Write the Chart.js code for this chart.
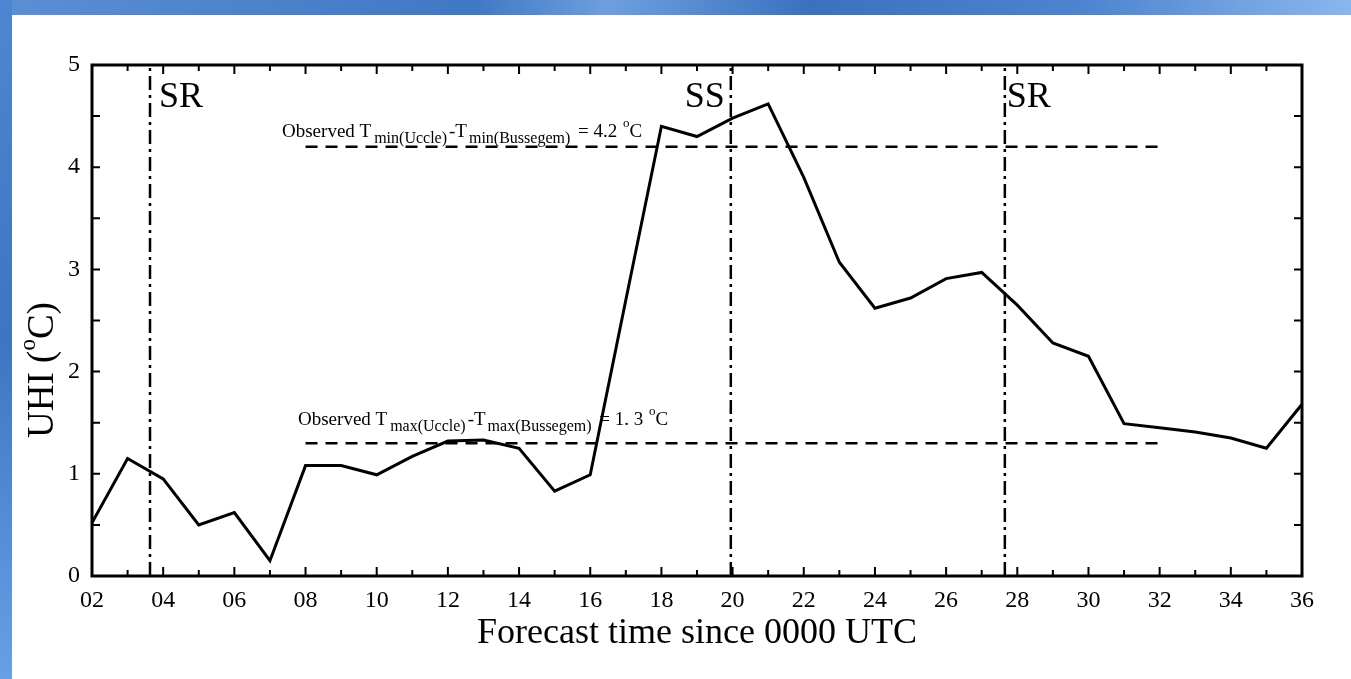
<!DOCTYPE html>
<html lang="en">
<head>
    <meta charset="UTF-8">
    <title>UHI forecast</title>
    <script src="https://cdn.jsdelivr.net/npm/chart.js"></script>
    <style>
        html, body { margin: 0; padding: 0; background: #fff; overflow: hidden; }
        .band-top { position: absolute; left: 0; top: 0; width: 1351px; height: 15px;
            background: linear-gradient(90deg, #5b8fd6 0%, #3f78c4 35%, #6d9fe0 45%, #3a72c0 60%, #4c84d0 80%, #8ab6ee 100%); }
        .band-left { position: absolute; left: 0; top: 0; width: 12px; height: 679px;
            background: linear-gradient(180deg, #4f86d2 0%, #3d75c2 50%, #67a0e6 100%); }
        .wrap { position: absolute; left: 0; top: 0; width: 1351px; height: 679px; }
    </style>
</head>
<body>
    <div class="band-top"></div>
    <div class="band-left"></div>
    <div class="wrap"><canvas id="uhiChart"></canvas></div>

    <script>
        // Forecast hours and UHI values (°C)
        const hours = [2, 3, 4, 5, 6, 7, 8, 9, 10, 11, 12, 13, 14, 15, 16, 17, 18, 19,
                       20, 21, 22, 23, 24, 25, 26, 27, 28, 29, 30, 31, 32, 33, 34, 35, 36];
        const uhi = [0.52, 1.15, 0.95, 0.50, 0.62, 0.15, 1.08, 1.08, 0.99, 1.17, 1.32, 1.33,
                     1.25, 0.83, 0.99, 2.70, 4.40, 4.30, 4.48, 4.62, 3.90, 3.07, 2.62, 2.72,
                     2.91, 2.97, 2.65, 2.28, 2.15, 1.49, 1.45, 1.41, 1.35, 1.25, 1.68];

        // Sunrise / sunset markers
        const sunTimes = [3.63, 19.95, 27.65];
        const sunLabels = ['SR', 'SS', 'SR'];

        // Observed differences (horizontal reference lines)
        const observed = [4.2, 1.3];
        const observedText = ['4.2', '1. 3'];
        const observedFrom = [8, 8];
        const observedTo = [32, 32];
        const observedKind = ['min', 'max'];

        const xRange = [2, 36];
        const yRange = [0, 5];

        const serif = "'Liberation Serif', 'Times New Roman', serif";
        const ink = '#000';

        const datasets = [{
            data: hours.map((h, i) => ({ x: h, y: uhi[i] })),
            borderColor: ink,
            borderWidth: 3,
            pointRadius: 0,
            tension: 0
        }];
        observed.forEach((v, i) => {
            datasets.push({
                data: [{ x: observedFrom[i], y: v }, { x: observedTo[i], y: v }],
                borderColor: ink,
                borderWidth: 2.5,
                borderDash: [12, 8],
                pointRadius: 0
            });
        });
        sunTimes.forEach(t => {
            datasets.push({
                data: [{ x: t, y: yRange[0] }, { x: t, y: yRange[1] }],
                borderColor: ink,
                borderWidth: 2.5,
                borderDash: [14, 5, 3, 5],
                pointRadius: 0
            });
        });

        // Frame, inward ticks and text annotations
        const decor = {
            id: 'decor',
            afterDatasetsDraw(chart) {
                const { ctx, chartArea: a, scales: { x, y } } = chart;
                ctx.save();
                ctx.strokeStyle = ink;
                ctx.lineWidth = 2;
                ctx.beginPath();
                for (let h = xRange[0]; h <= xRange[1]; h++) {
                    const px = x.getPixelForValue(h);
                    const len = h % 2 === 0 ? 9 : 6;
                    ctx.moveTo(px, a.bottom); ctx.lineTo(px, a.bottom - len);
                    ctx.moveTo(px, a.top); ctx.lineTo(px, a.top + len);
                }
                for (let v = yRange[0]; v <= yRange[1]; v += 0.5) {
                    const py = y.getPixelForValue(v);
                    ctx.moveTo(a.left, py); ctx.lineTo(a.left + 8, py);
                    ctx.moveTo(a.right, py); ctx.lineTo(a.right - 8, py);
                }
                ctx.stroke();
                ctx.lineWidth = 3;
                ctx.strokeRect(a.left, a.top, a.right - a.left, a.bottom - a.top);

                ctx.fillStyle = ink;
                ctx.textBaseline = 'alphabetic';

                // SR / SS labels
                ctx.font = '36px ' + serif;
                const shift = [9, -6, 2];
                sunTimes.forEach((t, i) => {
                    const px = x.getPixelForValue(t);
                    ctx.textAlign = shift[i] < 0 ? 'right' : 'left';
                    ctx.fillText(sunLabels[i], px + shift[i], a.top + 42);
                });

                // Observed Tmin / Tmax labels
                ctx.textAlign = 'left';
                const textStart = [282, 298];
                const textRise = [10, 18];
                observed.forEach((v, i) => {
                    let cx = textStart[i];
                    const base = y.getPixelForValue(v) - textRise[i];
                    const k = observedKind[i];
                    const parts = [
                        ['Observed T', 19, 0, 3],
                        [k + '(Uccle)', 16, 6, 2],
                        ['-T', 19, 0, 2],
                        [k + '(Bussegem)', 16, 6, 3],
                        [' = ' + observedText[i] + ' ', 19, 0, 1],
                        ['o', 13, -10, 0],
                        ['C', 19, 0, 0]
                    ];
                    parts.forEach(([s, size, dy, gap]) => {
                        ctx.font = size + 'px ' + serif;
                        ctx.fillText(s, cx, base + dy);
                        cx += ctx.measureText(s).width + gap;
                    });
                });

                // y-axis title
                ctx.save();
                ctx.translate(43, 370);
                ctx.rotate(-Math.PI / 2);
                ctx.textBaseline = 'middle';
                ctx.textAlign = 'left';
                const big = '37px ' + serif, small = '23px ' + serif;
                ctx.font = big;
                const w1 = ctx.measureText('UHI (').width;
                const w2 = ctx.measureText('C)').width;
                ctx.font = small;
                const wo = ctx.measureText('o').width;
                let sx = -(w1 + wo + w2) / 2;
                ctx.font = big;
                ctx.fillText('UHI (', sx, 0); sx += w1;
                ctx.font = small;
                ctx.fillText('o', sx, -14); sx += wo;
                ctx.font = big;
                ctx.fillText('C)', sx, 0);
                ctx.restore();

                ctx.restore();
            }
        };

        new Chart(document.getElementById('uhiChart'), {
            type: 'line',
            data: { datasets },
            options: {
                responsive: true,
                maintainAspectRatio: false,
                animation: false,
                layout: { padding: { top: 65, right: 49, bottom: 0, left: 0 } },
                plugins: { legend: { display: false }, tooltip: { enabled: false } },
                scales: {
                    x: {
                        type: 'linear',
                        min: xRange[0],
                        max: xRange[1],
                        grid: { display: false, drawTicks: false },
                        border: { display: false },
                        ticks: {
                            stepSize: 2,
                            autoSkip: false,
                            maxRotation: 0,
                            padding: 10,
                            color: ink,
                            font: { family: serif, size: 24 },
                            callback: v => String(v).padStart(2, '0')
                        },
                        title: {
                            display: true,
                            text: 'Forecast time since 0000 UTC',
                            color: ink,
                            font: { family: serif, size: 36 },
                            padding: { top: 0, bottom: 24 }
                        },
                        afterFit(scale) { scale.height = 103; }
                    },
                    y: {
                        min: yRange[0],
                        max: yRange[1],
                        grid: { display: false, drawTicks: false },
                        border: { display: false },
                        ticks: {
                            stepSize: 1,
                            padding: 12,
                            color: ink,
                            font: { family: serif, size: 24 }
                        },
                        afterFit(scale) { scale.width = 92; }
                    }
                }
            },
            plugins: [decor]
        });
    </script>
</body>
</html>
